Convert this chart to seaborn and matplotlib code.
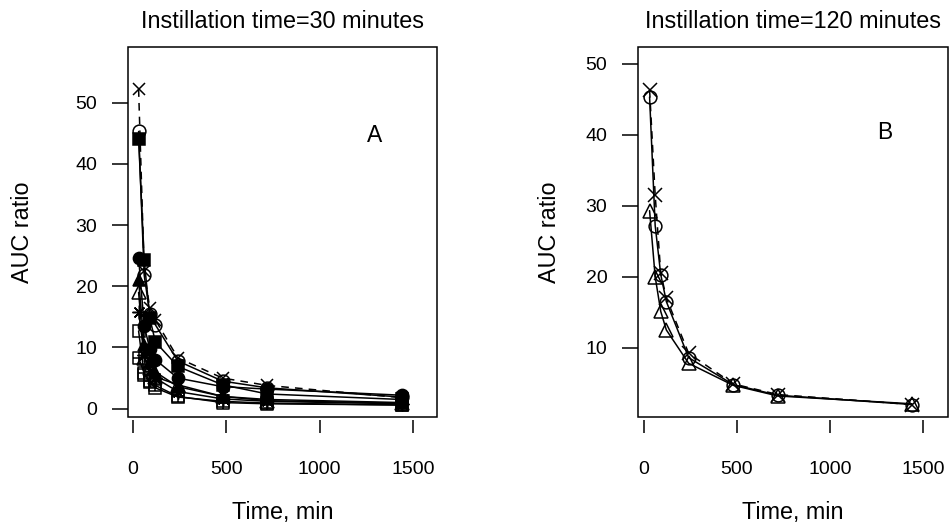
import matplotlib
matplotlib.use("Agg")
import matplotlib.pyplot as plt
from matplotlib.path import Path
from matplotlib.patches import Rectangle
import seaborn as sns

# ---------------- data ----------------
times = [30, 60, 90, 120, 240, 480, 720, 1440]

# Panel A: instillation time = 30 minutes
a_cross = [52.2, 22.5, 16.4, 14.5, 8.3, 5.0, 3.8, 1.8]
a_circle = [45.3, 21.8, 15.5, 13.7, 7.8, 4.5, 3.4, 1.9]
a_square_filled = [44.1, 24.3, 14.8, 10.9, 6.9, 3.9, 2.4, 1.5]
a_circle_filled = [24.7, 13.5, 9.8, 8.0, 5.0, 3.6, 3.2, 2.2]
a_triangle_filled = [21.0, 10.4, 7.6, 6.0, 3.6, 2.0, 1.5, 1.0]
a_triangle = [19.0, 8.3, 6.6, 5.2, 3.9, 2.0, 1.3, 0.9]
a_asterisk = [15.8, 8.8, 6.2, 5.0, 2.8, 1.6, 1.2, 0.8]
a_square = [12.7, 5.5, 4.3, 3.4, 1.9, 1.2, 0.9, 0.6]
a_square_plus = [8.3, 5.8, 4.6, 3.8, 2.0, 1.0, 0.8, 0.6]

# Panel B: instillation time = 120 minutes
b_cross = [46.3, 31.5, 20.5, 17.0, 9.2, 4.9, 3.4, 2.0]
b_circle = [45.3, 27.2, 20.3, 16.5, 8.6, 4.8, 3.3, 2.0]
b_triangle = [29.3, 20.0, 15.1, 12.5, 7.8, 4.7, 3.2, 2.1]

x_ticks = [0, 500, 1000, 1500]
a_yticks = [0, 10, 20, 30, 40, 50]
b_yticks = [10, 20, 30, 40, 50]
titles = ["Instillation time=30 minutes", "Instillation time=120 minutes"]
panel_letters = ["A", "B"]
x_label = "Time, min"
y_label = "AUC ratio"

# ---------------- style ----------------
sns.set_style("white")
plt.rcParams["font.family"] = ["Liberation Sans", "DejaVu Sans"]
plt.rcParams["text.color"] = "black"
plt.rcParams["axes.labelcolor"] = "black"
plt.rcParams["xtick.color"] = "black"
plt.rcParams["ytick.color"] = "black"

sq_plus = Path(
    [(-0.5, -0.5), (0.5, -0.5), (0.5, 0.5), (-0.5, 0.5), (-0.5, -0.5),
     (0, -0.5), (0, 0.5), (-0.5, 0), (0.5, 0)],
    [Path.MOVETO, Path.LINETO, Path.LINETO, Path.LINETO, Path.CLOSEPOLY,
     Path.MOVETO, Path.LINETO, Path.MOVETO, Path.LINETO])

W, H = 951, 525
fig = plt.figure(figsize=(W / 100, H / 100), dpi=100)
fig.patch.set_facecolor("white")


def px_axes(l, t, r, b):
    return fig.add_axes([l / W, 1 - b / H, (r - l) / W, (b - t) / H])


axA = px_axes(128, 47, 437, 417)
axB = px_axes(638, 47, 948, 417)

DASH = (0, (5, 4))

seriesA = [
    (a_square_plus, sq_plus, "none", 8.5, "-"),
    (a_square, "s", "none", 8.2, "-"),
    (a_asterisk, (8, 2, 0), "black", 10, "-"),
    (a_triangle, "^", "none", 9.5, "-"),
    (a_triangle_filled, "^", "black", 9.0, "-"),
    (a_circle_filled, "o", "black", 8.8, "-"),
    (a_square_filled, "s", "black", 8.0, "-"),
    (a_circle, "o", "none", 9.2, "-"),
    (a_cross, "x", "none", 9.0, DASH),
]
seriesB = [
    (b_triangle, "^", "none", 10, "-"),
    (b_circle, "o", "none", 9.2, "-"),
    (b_cross, "x", "none", 9.5, DASH),
]


def draw(ax, series):
    for vals, mk, fc, ms, ls in series:
        sns.lineplot(x=times, y=vals, ax=ax, color="black", marker=mk,
                     markersize=ms, markerfacecolor=fc,
                     markeredgecolor="black", markeredgewidth=1.1,
                     linestyle=ls, linewidth=1.1, legend=False,
                     errorbar=None, sort=False)


draw(axA, seriesA)
draw(axB, seriesB)

axA.set_xlim(-26.8, 1628.6)
axA.set_ylim(-1.36, 59.1)
axB.set_xlim(-32.3, 1634)
axB.set_ylim(0.24, 52.35)
axA.set_yticks(a_yticks)
axB.set_yticks(b_yticks)

ylab_x = [-0.34, -0.285]
letter_pos = [(0.799, 0.762), (0.797, 0.77)]

for i, ax in enumerate([axA, axB]):
    ax.set_xticks(x_ticks)
    ax.set_xticklabels([str(v) for v in x_ticks])
    for sp in ax.spines.values():
        sp.set_color("none")
    ax.spines["bottom"].set_position(("outward", 2.2))
    ax.add_patch(Rectangle((0, 0), 1, 1, transform=ax.transAxes, fill=False,
                           edgecolor="black", lw=1.1, clip_on=False, zorder=5))
    ax.tick_params(axis="x", direction="out", length=9.4, width=1.1, pad=20,
                   labelsize=14, color="black", labelcolor="black", bottom=True)
    ax.tick_params(axis="y", direction="out", length=11.5, width=1.1, pad=10.5,
                   labelsize=14, color="black", labelcolor="black", left=True)
    ax.set_xlabel(x_label, fontsize=16.8, va="center", color="black")
    ax.xaxis.set_label_coords(0.5, -0.257)
    ax.set_ylabel(y_label, fontsize=16.8, va="center", color="black")
    ax.yaxis.set_label_coords(ylab_x[i], 0.5)
    ax.set_title(titles[i], fontsize=16.8, pad=13.5, color="black")
    ax.text(letter_pos[i][0], letter_pos[i][1], panel_letters[i],
            transform=ax.transAxes, ha="center", va="center", fontsize=16.5,
            color="black")
    ax.grid(False)

fig.savefig("out.png", dpi=100, facecolor="white")
